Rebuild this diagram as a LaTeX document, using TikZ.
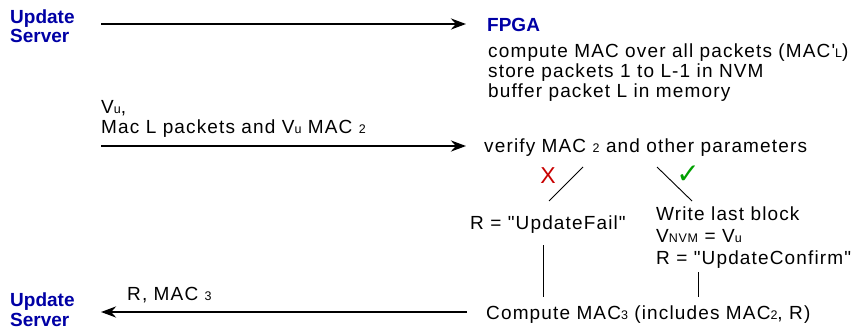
\documentclass[tikz,border=0pt]{standalone}
\usepackage{fontspec}
\setmainfont{Liberation Sans}[Ligatures=TeXOff]
\newfontfamily\spc{Liberation Sans}[Ligatures=TeXOff, LetterSpace=6]
\newfontfamily\symfnt{DejaVu Sans}
\usetikzlibrary{arrows.meta}
\definecolor{srvblue}{RGB}{0,0,165}
\definecolor{failred}{RGB}{200,0,0}
\definecolor{okgreen}{RGB}{0,160,0}
\newcommand{\lo}[1]{{\fontsize{12.5}{13}\selectfont #1}}
\begin{document}
\begin{tikzpicture}[x=1pt,y=-1pt,
  txt/.style={anchor=base west, inner sep=0pt, font=\spc\fontsize{19}{20}\selectfont},
  srv/.style={anchor=base west, inner sep=0pt, font=\fontsize{19}{20}\selectfont\bfseries, text=srvblue},
  msg/.style={line width=2.6pt, -{Stealth[length=15pt,width=11pt]}},
  thin/.style={line width=0.9pt}]
\useasboundingbox (0,0) rectangle (857,327);
% top server
\node[srv] (s1a) at (10,23) {Update};
\node[srv] (s1b) at (10,42) {Server};
% FPGA block
\node[srv] (fpga) at (487,31) {FPGA};
\node[txt] (c1) at (488,57) {compute MAC over all packets (MAC'\lo{L})};
\node[txt] (c2) at (488,77) {store packets 1 to L-1 in NVM};
\node[txt] (c3) at (488,97) {buffer packet L in memory};
% message 1
\coordinate (a1s) at (101,24);
\coordinate (a1e) at (466,24);
\draw[msg] (a1s) -- (a1e);
% message 2
\node[txt] (m2a) at (101,113) {V\lo{u},};
\node[txt] (m2b) at (101,133) {Mac L packets and V\lo{u} MAC \lo{2}};
\coordinate (a2s) at (101,146);
\coordinate (a2e) at (466,146);
\draw[msg] (a2s) -- (a2e);
\node[txt] (ver) at (484,152) {verify MAC \lo{2} and other parameters};
% branches
\coordinate (f1) at (583,167);
\coordinate (f2) at (549,201);
\draw[thin] (f1) -- (f2);
\node[inner sep=0pt, text=failred, font=\fontsize{23}{23}\selectfont] (xm) at (548,176) {X};
\coordinate (t1) at (657,167);
\coordinate (t2) at (692,201);
\draw[thin] (t1) -- (t2);
\node[inner sep=0pt, text=okgreen, font=\symfnt\fontsize{28}{28}\selectfont\bfseries] (ck) at (688,175) {✓};
\node[txt] (fail) at (470,229) {R = "UpdateFail"};
\node[txt] (w1) at (656,220) {Write last block};
\node[txt] (w2) at (656,242) {V\lo{NVM} = V\lo{u}};
\node[txt] (w3) at (656,264) {R = "UpdateConfirm"};
\coordinate (v1a) at (543,245);
\coordinate (v1b) at (543,297);
\draw[thin] (v1a) -- (v1b);
\coordinate (v2a) at (698,272);
\coordinate (v2b) at (698,297);
\draw[thin] (v2a) -- (v2b);
\node[txt] (cmp) at (486,319) {Compute MAC\lo{3} (includes MAC\lo{2}, R)};
% message 3
\coordinate (a3s) at (467,312);
\coordinate (a3e) at (101,312);
\draw[msg] (a3s) -- (a3e);
\node[txt] (m3) at (127,300) {R, MAC \lo{3}};
\node[srv] (s2a) at (10,306) {Update};
\node[srv] (s2b) at (10,326) {Server};
\end{tikzpicture}
\end{document}
